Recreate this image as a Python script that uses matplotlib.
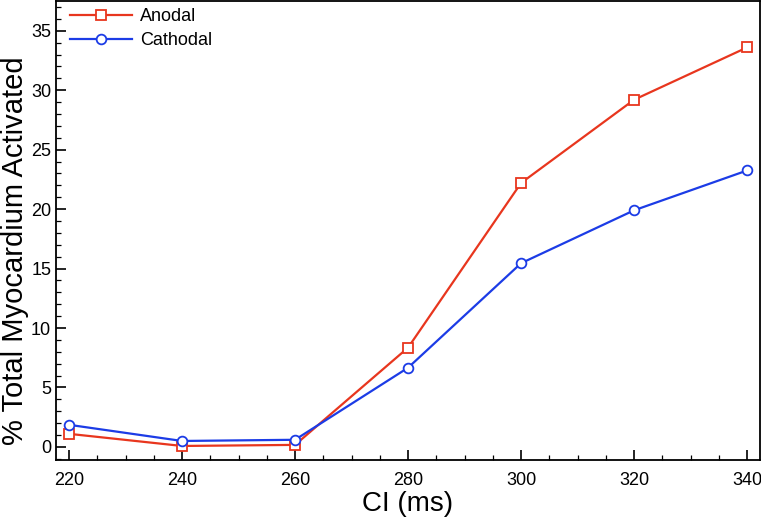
import matplotlib
matplotlib.use('Agg')
import matplotlib.pyplot as plt
from matplotlib.ticker import MultipleLocator

plt.rcParams['font.family'] = ['Liberation Sans', 'DejaVu Sans']

ci = [220, 240, 260, 280, 300, 320, 340]
anodal = [1.1, 0.08, 0.17, 8.35, 22.2, 29.2, 33.6]
cathodal = [1.86, 0.5, 0.6, 6.66, 15.45, 19.9, 23.25]

fig = plt.figure(figsize=(7.61, 5.20), dpi=100)
ax = fig.add_axes([0.0736, 0.1154, 0.9245, 0.8826])

ax.plot(ci, anodal, color='#e8361e', lw=1.6, marker='s', ms=6.5,
        mfc='white', mec='#e8361e', mew=1.3, label='Anodal')
ax.plot(ci, cathodal, color='#1c3ce6', lw=1.6, marker='o', ms=7,
        mfc='white', mec='#1c3ce6', mew=1.3, label='Cathodal')

ax.set_xlim(217.7, 342.2)
ax.set_ylim(-1.1, 37.5)
ax.xaxis.set_major_locator(MultipleLocator(20))
ax.xaxis.set_minor_locator(MultipleLocator(5))
ax.yaxis.set_major_locator(MultipleLocator(5))
ax.yaxis.set_minor_locator(MultipleLocator(1))
ax.tick_params(which='both', direction='in', top=False, right=False, labelsize=13)
ax.tick_params(axis='x', which='major', pad=9)
ax.tick_params(which='major', length=7, width=1.2)
ax.tick_params(which='minor', length=3.5, width=0.9)
for s in ax.spines.values():
    s.set_linewidth(1.3)

ax.set_xlabel('CI (ms)', fontsize=20, labelpad=1)
ax.set_ylabel('% Total Myocardium Activated', fontsize=21)
ax.yaxis.set_label_coords(-0.038, 0.457)

ax.legend(loc='upper left', bbox_to_anchor=(0.01, 1.0), frameon=False,
          fontsize=13, handlelength=3.4, handletextpad=0.45,
          borderaxespad=0, borderpad=0.4, labelspacing=0.4)

fig.savefig('out.png', dpi=100)
